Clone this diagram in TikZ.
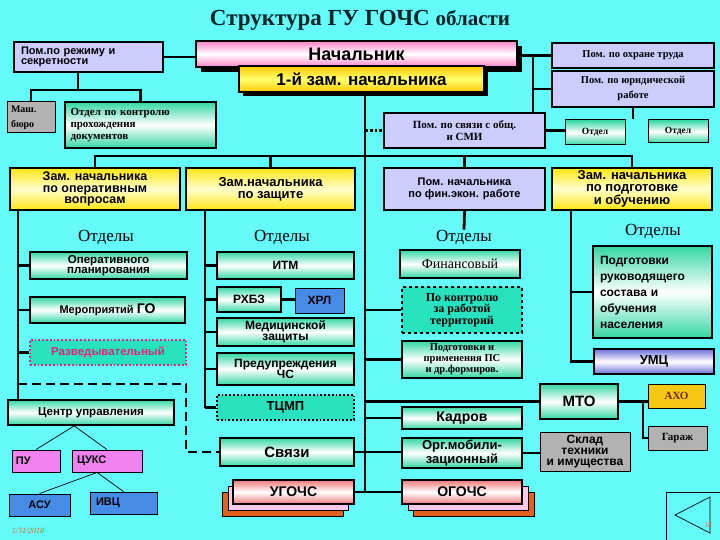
\documentclass[tikz,border=0pt]{standalone}
\usepackage{fontspec}
\setmainfont{Liberation Serif}
\setsansfont{Liberation Sans}
\usetikzlibrary{calc}
\definecolor{bgc}{RGB}{100,250,250}
\definecolor{lav}{RGB}{204,204,255}
\definecolor{teal1}{RGB}{50,215,165}
\definecolor{teal2}{RGB}{40,225,190}
\definecolor{yel1}{RGB}{255,230,20}
\definecolor{yel2}{RGB}{255,255,205}
\definecolor{gry}{RGB}{178,178,178}
\definecolor{blu}{RGB}{70,140,230}
\definecolor{mag}{RGB}{240,130,240}
\definecolor{gold}{RGB}{245,200,20}
\definecolor{pnk}{RGB}{255,130,200}
\definecolor{gld1}{RGB}{255,200,0}
\definecolor{gld2}{RGB}{255,255,110}
\definecolor{umcc}{RGB}{110,110,220}
\definecolor{salm}{RGB}{240,120,120}
\definecolor{lpink}{RGB}{255,200,235}
\definecolor{orng}{RGB}{230,95,30}
\definecolor{ttl}{RGB}{0,35,40}
\definecolor{datec}{RGB}{200,120,40}
\definecolor{razvt}{RGB}{220,40,120}
\definecolor{axot}{RGB}{110,40,0}
\newcommand\fSB[2]{\sffamily\bfseries\fontsize{#1}{#2}\selectfont}
\newcommand\fRB[2]{\rmfamily\bfseries\fontsize{#1}{#2}\selectfont}
\newcommand\fRR[2]{\rmfamily\fontsize{#1}{#2}\selectfont}
\newcommand\bx[7]{\node[#6, minimum width={(#4-#2)*1pt}, minimum height={(#5-#3)*1pt}] (#1) at ({(#2+#4)/2},{(#3+#5)/2}) {#7};}
\begin{document}
\begin{tikzpicture}[x=1pt,y=-1pt,
  box/.style={draw=black, line width=1.8pt, inner sep=1pt, align=center, text=black, font={\fSB{11}{10}}},
  lavbox/.style={box, fill=lav},
  grn/.style={box, top color=teal1, bottom color=teal1, middle color=white},
  yel/.style={box, top color=yel1, bottom color=yel1, middle color=yel2},
  grybox/.style={box, fill=gry},
  blubox/.style={box, fill=blu, line width=0.9pt},
  magbox/.style={box, fill=mag, line width=0.9pt},
  dotbox/.style={box, fill=teal2, dotted, line width=1.8pt},
  conn/.style={line width=2.8pt, black},
  thinl/.style={line width=0.7pt, black},
  dashln/.style={line width=2.8pt, black, dash pattern=on 9pt off 5pt},
  otd/.style={font={\fRR{17}{17}}, inner sep=1pt}
]
\fill[bgc] (0,0) rectangle (720,540);
\useasboundingbox (0,0) rectangle (720,540);

% title
\node[text=ttl, font={\fRB{23}{23}}] (title) at (360,20) {Структура ГУ ГОЧС {\fontsize{21}{21}\selectfont области}};

% top
\bx{pomrez}{14}{42}{163}{72}{lavbox, text width=135pt, align=left}{Пом.по режиму и\\секретности}
\bx{nachsh}{201}{46}{522}{72}{fill=black, draw=none, inner sep=0pt}{}
\bx{nach}{196}{41}{517}{67}{box, top color=pnk, bottom color=pnk, middle color=white, line width=2pt, font={\fSB{18}{18}}}{Начальник}
\bx{zam1sh}{243}{70}{488}{96}{fill=black, draw=none, inner sep=0pt}{}
\bx{zam1}{239}{66}{484}{92}{box, top color=gld1, bottom color=gld1, middle color=gld2, font={\fSB{17}{17}}}{1-й зам. начальника}
\bx{ohr}{552}{43}{714}{68}{lavbox, font={\fRB{10.5}{12}}}{Пом. по охране труда}
\bx{yur}{552}{71}{714}{107}{lavbox, font={\fRB{10.5}{15}}}{Пом. по юридической\\работе}
\bx{svsmi}{384}{113}{545}{148}{lavbox, font={\fRB{11}{12}}}{Пом. по связи с общ.\\и СМИ}
\bx{otdl}{565}{120}{625}{145}{grn, line width=1pt, font={\fRB{9.5}{10}}}{Отдел}
\bx{otdr}{648}{120}{708}{143}{grn, line width=1pt, font={\fRB{9.5}{10}}}{Отдел}
\bx{mash}{7}{102}{55}{133}{grybox, line width=1pt, text width=40pt, align=left, font={\fRB{10}{15}}}{Маш.\\бюро}
\bx{otdk}{65}{102}{216}{148}{grn, text width=140pt, align=left, font={\fRB{11}{12}}}{Отдел по контролю\\прохождения\\документов}

% row 2
\bx{zop}{10}{168}{180}{210}{yel, font={\fSB{12.5}{11.5}}}{Зам. начальника\\по оперативным\\вопросам}
\bx{zzash}{186}{168}{355}{210}{yel, font={\fSB{13}{12}}}{Зам.начальника\\по защите}
\bx{finpom}{384}{168}{545}{210}{lavbox, font={\fSB{11}{12}}}{Пом. начальника\\по фин.экон. работе}
\bx{zpodg}{552}{168}{712}{210}{yel, font={\fSB{13}{12}}}{Зам. начальника\\по подготовке\\и обучению}

\node[otd] (otdA) at (106,238) {Отделы};
\node[otd] (otdB) at (282,238) {Отделы};
\node[otd] (otdC) at (464,238) {Отделы};
\node[otd] (otdD) at (653,232) {Отделы};

% left column
\bx{op}{30}{252}{187}{279}{grn, font={\fSB{11.5}{10.5}}}{Оперативного\\планирования}
\bx{mer}{30}{297}{185}{323}{grn, font={\fSB{11}{11}}}{Мероприятий {\fontsize{14}{14}\selectfont ГО}}
\bx{razv}{30}{340}{186}{365}{box, fill=teal2, draw=razvt, dotted, line width=2.2pt, text=razvt, font={\fSB{11.5}{11}}}{Разведывательный}
\bx{cu}{8}{400}{174}{425}{grn, font={\fSB{11.5}{11}}}{Центр управления}
\bx{pu}{12}{450}{60}{472}{magbox, text width=40pt, align=left}{ПУ}
\bx{cuks}{72}{450}{142}{472}{magbox, text width=60pt, align=left}{ЦУКС}
\bx{asu}{9}{494}{70}{516}{blubox}{АСУ}
\bx{ivc}{90}{492}{157}{514}{blubox, text width=55pt, align=left}{ИВЦ}
\node[font={\rmfamily\itshape\fontsize{8}{8}\selectfont}, text=datec] (date) at (28,531) {1/31/2018};

% protection column
\bx{itm}{217}{252}{354}{279}{grn, font={\fSB{12}{12}}}{ИТМ}
\bx{rhbz}{217}{287}{281}{312}{grn, font={\fSB{12}{12}}}{РХБЗ}
\bx{hrl}{295}{288}{344}{313}{blubox, font={\fSB{12}{12}}}{ХРЛ}
\bx{med}{217}{318}{354}{346}{grn, font={\fSB{12}{11}}}{Медицинской\\защиты}
\bx{pred}{217}{353}{354}{385}{grn, font={\fSB{12}{11.5}}}{Предупреждения\\ЧС}
\bx{tcmp}{217}{395}{354}{420}{dotbox, font={\fSB{13}{13}}}{ТЦМП}
\bx{svy}{220}{438}{354}{466}{grn, font={\fSB{15}{15}}}{Связи}
\bx{ugC}{222}{492}{343}{516}{box, fill=orng, line width=1pt}{}
\bx{ugB}{228}{486}{348}{510}{box, fill=lpink, line width=1pt}{}
\bx{ugochs}{233}{480}{354}{504}{box, top color=salm, bottom color=salm, middle color=white, font={\fSB{14}{14}}}{УГОЧС}

% fin column
\bx{finans}{400}{250}{520}{278}{grn, font={\fRR{14}{14}}}{Финансовый}
\bx{kontr}{402}{287}{522}{333}{box, fill=teal2, dashed, line width=1.8pt, font={\fRB{12}{11.5}}}{По контролю\\за работой\\территорий}
\bx{podpr}{402}{341}{522}{378}{grn, font={\fRB{10.5}{11}}}{Подготовки и\\применения ПС\\и др.формиров.}
\bx{kadr}{402}{407}{522}{429}{grn, font={\fSB{14}{14}}}{Кадров}
\bx{orgm}{402}{438}{522}{468}{grn, font={\fSB{13}{11.5}}}{Орг.мобили-\\зационный}
\bx{ogC}{413}{492}{534}{516}{box, fill=orng, line width=1pt}{}
\bx{ogB}{408}{486}{528}{510}{box, fill=lpink, line width=1pt}{}
\bx{ogochs}{402}{480}{522}{504}{box, top color=salm, bottom color=salm, middle color=white, font={\fSB{14}{14}}}{ОГОЧС}
\bx{mto}{540}{384}{618}{419}{grn, font={\fSB{15}{15}}}{МТО}
\bx{sklad}{540}{432}{630}{471}{grybox, line width=0.9pt, font={\fSB{12}{11}}}{Склад\\техники\\и имущества}
\bx{axo}{648}{384}{705}{408}{box, fill=gold, line width=0.9pt, text=axot, font={\fRB{11}{11}}}{АХО}
\bx{garage}{648}{426}{707}{450}{grybox, line width=0.9pt, font={\fRB{11}{11}}}{Гараж}

% right column
\bx{podgruk}{593}{246}{712}{338}{grn, text width=105pt, align=left, font={\fSB{12}{16}}}{Подготовки\\руководящего\\состава и\\обучения\\населения}
\bx{umc}{594}{349}{714}{374}{box, top color=umcc, bottom color=umcc, middle color=white, font={\fSB{13}{13}}}{УМЦ}

% navigation
\draw[thinl] (666,540) -- (666,492) -- (720,492);
\draw[thinl] (675,515) -- (710,497) -- (710,533) -- cycle;
\node[font={\rmfamily\itshape\fontsize{7}{7}\selectfont}, text=datec] (pg) at (708,525) {18};

% ---- connectors ----
\coordinate (m) at (365,0);
\coordinate (r) at (533,0);
\coordinate (lv) at (18,0);
\coordinate (zv) at (205,0);
\coordinate (pv) at (571,0);
\coordinate (gv) at (643,0);
\coordinate (t1) at (78,90);
\coordinate (bus) at (0,156);

\draw[conn] (pomrez.east) -- (nach.west |- pomrez.east);
\draw[conn] (t1 |- pomrez.south) -- (t1);
\draw[conn] (mash.north) |- (t1) -| (otdk.north);

\draw[conn] (nach.east |- ohr.west) -- (ohr.west);
\draw[conn] (r |- ohr.west) -- (r |- svsmi.north);
\draw[conn] (r |- yur.west) -- (yur.west);
\draw[conn] (svsmi.east) -- (otdl.west |- svsmi.east);
\draw[conn] (otdr.north -| yur.south) -- (yur.south);

\draw[conn] (m |- zam1sh.south) -- (m |- ogochs.west);
\draw[conn, dotted] (m |- svsmi.west) -- (svsmi.west);

\draw[conn] (zop.north) -- (zop.north |- bus) -- (zpodg.north |- bus) -- (zpodg.north);
\draw[conn] (zzash.north) -- (zzash.north |- bus);
\draw[conn] (finpom.north) -- (finpom.north |- bus);

% left
\draw[conn] (lv |- zop.south) -- (lv |- cu.north);
\draw[conn] (lv |- op.west) -- (op.west);
\draw[conn] (lv |- mer.west) -- (mer.west);
\draw[conn] (lv |- razv.west) -- (razv.west);
\coordinate (d1) at (18,384);
\coordinate (d2) at (186,384);
\draw[dashln] (d1) -- (d2) |- (svy.west);
\draw[thinl] ($(cu.south west)!0.4!(cu.south east)$) -- (pu.north);
\draw[thinl] ($(cu.south west)!0.4!(cu.south east)$) -- ($(cuks.north west)!0.5!(cuks.north east)$);
\draw[thinl] ($(cuks.south west)!0.36!(cuks.south east)$) -- (asu.north);
\draw[thinl] ($(cuks.south west)!0.36!(cuks.south east)$) -- (ivc.north);

% protection
\draw[conn] (zv |- zzash.south) -- (zv |- tcmp.west);
\draw[conn] (zv |- itm.west) -- (itm.west);
\draw[conn] (zv |- rhbz.west) -- (rhbz.west);
\draw[conn] (zv |- med.west) -- (med.west);
\draw[conn] (zv |- pred.west) -- (pred.west);
\draw[conn] (zv |- tcmp.west) -- (tcmp.west);
\draw[conn] (rhbz.east) -- (hrl.west |- rhbz.east);
\draw[conn] (svy.east) -- (orgm.west |- svy.east);
\draw[conn] (ugochs.east) -- (m |- ugochs.east);

% fin
\draw[conn] (finpom.south) -- (otdC.north);
\draw[conn] (m |- kontr.west) -- (kontr.west);
\draw[conn] (m |- podpr.west) -- (podpr.west);
\draw[conn] (m |- mto.west) -- (mto.west);
\draw[conn] (m |- kadr.west) -- (kadr.west);
\draw[conn] (m |- ogochs.west) -- (ogochs.west);
\draw[conn] (orgm.east) -- (sklad.west |- orgm.east);
\draw[conn] (mto.east) -- (axo.west |- mto.east);
\draw[conn] (gv |- mto.east) |- (garage.west);

% right
\draw[conn] (pv |- zpodg.south) |- (umc.west);
\draw[conn] (pv |- podgruk.west) -- (podgruk.west);
\end{tikzpicture}
\end{document}
